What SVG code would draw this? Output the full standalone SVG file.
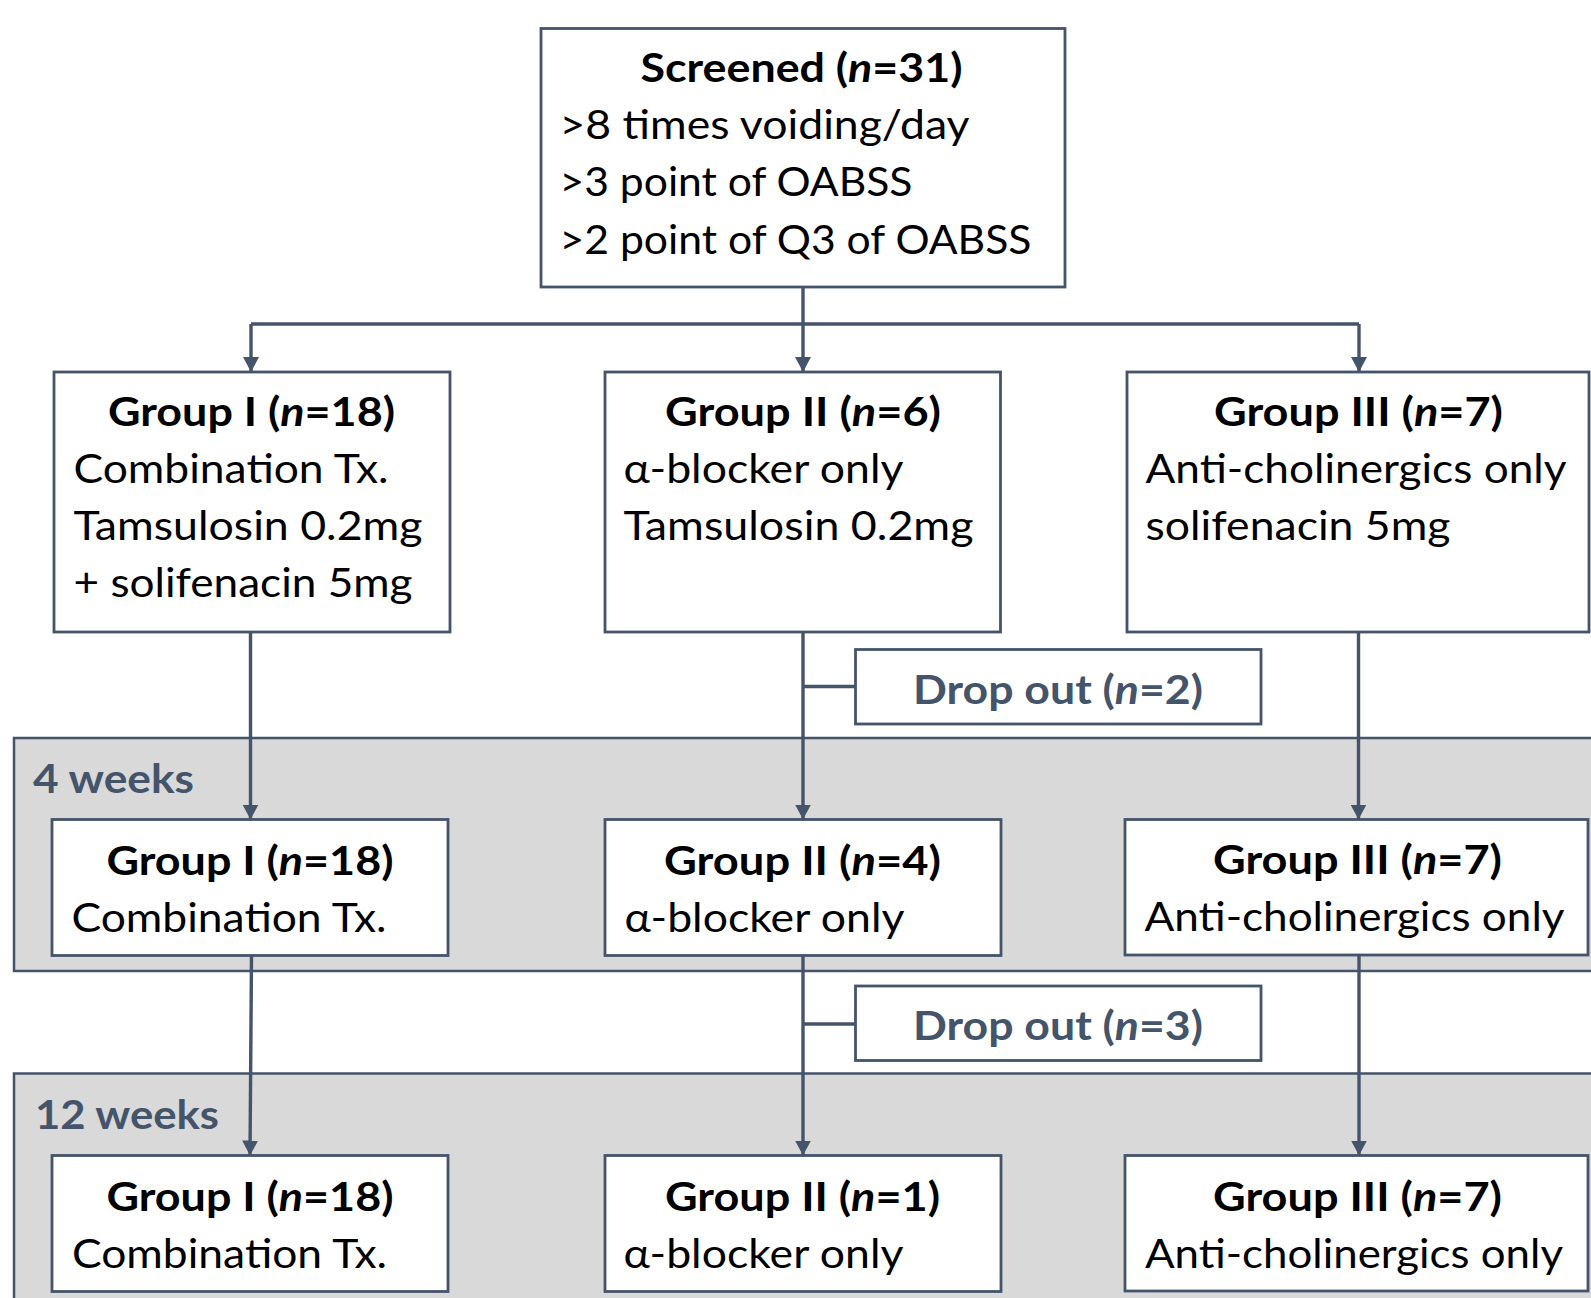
<svg xmlns="http://www.w3.org/2000/svg" width="1591" height="1298" viewBox="0 0 1591 1298">
<style>
  .bg{fill:#ffffff}
  .panel{fill:#d9d9d9;stroke:#44546a;stroke-width:2.5}
  .box{fill:#ffffff;stroke:#44546a;stroke-width:2.8}
  .conn{fill:none;stroke:#44546a;stroke-width:3.4}
  .t{font-family:Lato,"Liberation Sans",sans-serif;font-size:40px;fill:#000000}
  .b{font-weight:bold}
  .lbl{font-family:Lato,"Liberation Sans",sans-serif;font-size:41px;font-weight:bold;fill:#44546a}
  .i{font-style:italic}
</style>
<defs>
  <marker id="arr" viewBox="0 0 15 16" refX="15" refY="8" markerWidth="15" markerHeight="16" markerUnits="userSpaceOnUse" orient="auto">
    <path d="M0,0 L15,8 L0,16 z" fill="#44546a"/>
  </marker>
</defs>
<rect class="bg" x="0" y="0" width="1591" height="1298"/>

<g id="panel-4weeks">
  <rect class="panel" x="14" y="738" width="1590" height="233"/>
  <text class="lbl" x="33" y="793" textLength="161" lengthAdjust="spacingAndGlyphs">4 weeks</text>
</g>
<g id="panel-12weeks">
  <rect class="panel" x="14" y="1073.5" width="1590" height="240"/>
  <text class="lbl" x="35" y="1128.5" textLength="184" lengthAdjust="spacingAndGlyphs">12 weeks</text>
</g>

<g id="connectors">
  <path class="conn" d="M803,287 V324"/>
  <path class="conn" d="M251,324 H1359"/>
  <path class="conn" d="M251,324 V372" marker-end="url(#arr)"/>
  <path class="conn" d="M803,324 V372" marker-end="url(#arr)"/>
  <path class="conn" d="M1359,324 V372" marker-end="url(#arr)"/>
  <path class="conn" d="M250.5,632 V819.5" marker-end="url(#arr)"/>
  <path class="conn" d="M803,632 V819.5" marker-end="url(#arr)"/>
  <path class="conn" d="M803,686.5 H855.5"/>
  <path class="conn" d="M1358.5,632 V819.5" marker-end="url(#arr)"/>
  <path class="conn" d="M251.5,955.5 L250,1155.5" marker-end="url(#arr)"/>
  <path class="conn" d="M803,955.5 V1155.5" marker-end="url(#arr)"/>
  <path class="conn" d="M803,1024 H855.5"/>
  <path class="conn" d="M1359,955 V1155.5" marker-end="url(#arr)"/>
</g>

<g id="screened">
  <rect class="box" x="541" y="28.5" width="524" height="258.5"/>
  <text class="t b" x="640.5" y="82" textLength="322" lengthAdjust="spacingAndGlyphs">Screened (<tspan class="i">n</tspan>=31)</text>
  <text class="t" x="559.5" y="138.5" textLength="410" lengthAdjust="spacingAndGlyphs">&gt;8 times voiding/day</text>
  <text class="t" x="559.5" y="196" textLength="353" lengthAdjust="spacingAndGlyphs">&gt;3 point of OABSS</text>
  <text class="t" x="559.5" y="253.5" textLength="472" lengthAdjust="spacingAndGlyphs">&gt;2 point of Q3 of OABSS</text>
</g>

<g id="group1-baseline">
  <rect class="box" x="54" y="372" width="396" height="260"/>
  <text class="t b" x="108" y="426" textLength="287" lengthAdjust="spacingAndGlyphs">Group I (<tspan class="i">n</tspan>=18)</text>
  <text class="t" x="73.5" y="483" textLength="315" lengthAdjust="spacingAndGlyphs">Combination Tx.</text>
  <text class="t" x="73.5" y="540" textLength="349" lengthAdjust="spacingAndGlyphs">Tamsulosin 0.2mg</text>
  <text class="t" x="73.5" y="597" textLength="339" lengthAdjust="spacingAndGlyphs">+ solifenacin 5mg</text>
</g>

<g id="group2-baseline">
  <rect class="box" x="605" y="372" width="395.5" height="260"/>
  <text class="t b" x="665" y="426" textLength="276" lengthAdjust="spacingAndGlyphs">Group II (<tspan class="i">n</tspan>=6)</text>
  <text class="t" x="623.5" y="483" textLength="280" lengthAdjust="spacingAndGlyphs">α-blocker only</text>
  <text class="t" x="623.5" y="540" textLength="350" lengthAdjust="spacingAndGlyphs">Tamsulosin 0.2mg</text>
</g>

<g id="group3-baseline">
  <rect class="box" x="1127" y="372" width="462" height="260"/>
  <text class="t b" x="1214" y="426" textLength="289" lengthAdjust="spacingAndGlyphs">Group III (<tspan class="i">n</tspan>=7)</text>
  <text class="t" x="1145.5" y="483" textLength="421" lengthAdjust="spacingAndGlyphs">Anti-cholinergics only</text>
  <text class="t" x="1145.5" y="540" textLength="305" lengthAdjust="spacingAndGlyphs">solifenacin 5mg</text>
</g>

<g id="dropout1">
  <rect class="box" x="855.5" y="649.5" width="405.5" height="74.5"/>
  <text class="lbl" x="913" y="703.5" textLength="290" lengthAdjust="spacingAndGlyphs">Drop out (<tspan class="i">n</tspan>=2)</text>
</g>

<g id="group1-4w">
  <rect class="box" x="52" y="819.5" width="396" height="136"/>
  <text class="t b" x="106.5" y="874.5" textLength="287" lengthAdjust="spacingAndGlyphs">Group I (<tspan class="i">n</tspan>=18)</text>
  <text class="t" x="71.5" y="931.5" textLength="315" lengthAdjust="spacingAndGlyphs">Combination Tx.</text>
</g>

<g id="group2-4w">
  <rect class="box" x="605" y="819.5" width="396" height="136"/>
  <text class="t b" x="664" y="874.5" textLength="277" lengthAdjust="spacingAndGlyphs">Group II (<tspan class="i">n</tspan>=4)</text>
  <text class="t" x="624.5" y="931.5" textLength="280" lengthAdjust="spacingAndGlyphs">α-blocker only</text>
</g>

<g id="group3-4w">
  <rect class="box" x="1125" y="819.5" width="463" height="135.5"/>
  <text class="t b" x="1213" y="874" textLength="289" lengthAdjust="spacingAndGlyphs">Group III (<tspan class="i">n</tspan>=7)</text>
  <text class="t" x="1144.5" y="930.5" textLength="420" lengthAdjust="spacingAndGlyphs">Anti-cholinergics only</text>
</g>

<g id="dropout2">
  <rect class="box" x="855.5" y="986" width="405.5" height="74.5"/>
  <text class="lbl" x="913" y="1040" textLength="290" lengthAdjust="spacingAndGlyphs">Drop out (<tspan class="i">n</tspan>=3)</text>
</g>

<g id="group1-12w">
  <rect class="box" x="52" y="1155.5" width="396" height="136"/>
  <text class="t b" x="106.5" y="1211" textLength="287" lengthAdjust="spacingAndGlyphs">Group I (<tspan class="i">n</tspan>=18)</text>
  <text class="t" x="72" y="1268" textLength="315" lengthAdjust="spacingAndGlyphs">Combination Tx.</text>
</g>

<g id="group2-12w">
  <rect class="box" x="605" y="1155.5" width="396" height="136"/>
  <text class="t b" x="665" y="1211" textLength="275" lengthAdjust="spacingAndGlyphs">Group II (<tspan class="i">n</tspan>=1)</text>
  <text class="t" x="623.5" y="1268" textLength="280" lengthAdjust="spacingAndGlyphs">α-blocker only</text>
</g>

<g id="group3-12w">
  <rect class="box" x="1125" y="1155.5" width="463" height="135.5"/>
  <text class="t b" x="1213" y="1211" textLength="289" lengthAdjust="spacingAndGlyphs">Group III (<tspan class="i">n</tspan>=7)</text>
  <text class="t" x="1145" y="1268" textLength="418" lengthAdjust="spacingAndGlyphs">Anti-cholinergics only</text>
</g>
</svg>
